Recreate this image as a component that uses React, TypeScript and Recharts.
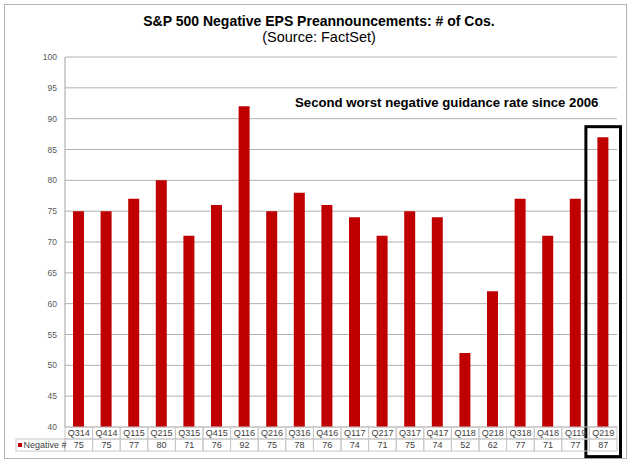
import React from 'react';
import { BarChart, Bar, XAxis, YAxis, CartesianGrid, ReferenceArea, Customized } from 'recharts';

const categories = ['Q314', 'Q414', 'Q115', 'Q215', 'Q315', 'Q415', 'Q116', 'Q216', 'Q316', 'Q416', 'Q117', 'Q217', 'Q317', 'Q417', 'Q118', 'Q218', 'Q318', 'Q418', 'Q119', 'Q219'];
const negatives = [75, 75, 77, 80, 71, 76, 92, 75, 78, 76, 74, 71, 75, 74, 52, 62, 77, 71, 77, 87];
const yTicks = [40, 45, 50, 55, 60, 65, 70, 75, 80, 85, 90, 95, 100];
const seriesName = 'Negative #';
const titleText = 'S&P 500 Negative EPS Preannouncements: # of Cos.';
const subtitleText = '(Source: FactSet)';
const noteText = 'Second worst negative guidance rate since 2006';
const highlightCategory = 'Q219';

const data = categories.map((q, i) => ({ q, v: negatives[i] }));

const W = 640;
const H = 465;
const M = { top: 57, right: 23, bottom: 14, left: 0 };
const Y_W = 65;
const X_H = 24;
const PLOT_LEFT = M.left + Y_W;
const PLOT_RIGHT = W - M.right;
const PLOT_BOTTOM = H - M.bottom - X_H;
const BAND = (PLOT_RIGHT - PLOT_LEFT) / categories.length;
const ROW = 12;
const FONT = '"Liberation Sans", Arial, sans-serif';
const CELL = '#c8c8c8';
const TXT = '#404040';
const RED = '#C00000';

const TableTick = (props: any) => {
  const { x, payload, index } = props;
  const i = payload && payload.index != null ? payload.index : index;
  const left = x - BAND / 2;
  const t = PLOT_BOTTOM;
  return (
    <g>
      <rect x={left} y={t} width={BAND} height={ROW} fill="none" stroke={CELL} strokeWidth={1} />
      <text x={x} y={t + 9.3} textAnchor="middle" fontSize={9} fill={TXT} fontFamily={FONT}>{payload.value}</text>
      <rect x={left} y={t + ROW} width={BAND} height={ROW} fill="none" stroke={CELL} strokeWidth={1} />
      <text x={x} y={t + ROW + 9.3} textAnchor="middle" fontSize={9} fill={TXT} fontFamily={FONT}>{negatives[i]}</text>
      {i === 0 && (
        <g>
          <rect x={16} y={t + ROW} width={left - 16} height={ROW} fill="none" stroke={CELL} strokeWidth={1} />
          <rect x={18} y={t + ROW + 4} width={4} height={4} fill={RED} />
          <text x={23.5} y={t + ROW + 9.3} fontSize={9} fill={TXT} fontFamily={FONT}>{seriesName}</text>
        </g>
      )}
    </g>
  );
};

const Decor = () => (
  <g>
    <rect x={4.5} y={4.5} width={622} height={454} fill="none" stroke="#b4b4b4" strokeWidth={1} />
    <text x={319} y={26} textAnchor="middle" fontSize={14} fontWeight="bold" fill="#000" fontFamily={FONT}>{titleText}</text>
    <text x={319} y={42} textAnchor="middle" fontSize={14.5} fill="#000" fontFamily={FONT}>{subtitleText}</text>
    <text x={295} y={107} fontSize={13.2} fontWeight="bold" fill="#000" fontFamily={FONT}>{noteText}</text>
  </g>
);

const HighlightShape = (p: any) => (
  <rect x={p.x - 3.5} y={p.y} width={p.width + 7} height={p.height} fill="none" stroke="#000" strokeWidth={3} />
);

export default function App() {
  return (
    <div style={{ position: 'absolute', left: 0, top: 0, background: '#fff' }}>
      <BarChart width={W} height={H} data={data} margin={M} barCategoryGap={0}>
        <CartesianGrid vertical={false} stroke="#b0b0b0" />
        <XAxis
          dataKey="q"
          interval={0}
          height={X_H}
          axisLine={false}
          tickLine={false}
          tick={<TableTick />}
        />
        <YAxis
          width={Y_W}
          domain={[40, 100]}
          ticks={yTicks}
          interval={0}
          axisLine={{ stroke: '#a0a0a0' }}
          tickLine={false}
          tick={{ fontSize: 8.5, fill: '#595959', fontFamily: FONT }}
        />
        <Bar dataKey="v" fill={RED} barSize={11} isAnimationActive={false} />
        <ReferenceArea
          x1={highlightCategory}
          x2={highlightCategory}
          y1={35.2}
          y2={88.7}
          ifOverflow="visible"
          shape={<HighlightShape />}
        />
        <Customized component={<Decor />} />
      </BarChart>
    </div>
  );
}
